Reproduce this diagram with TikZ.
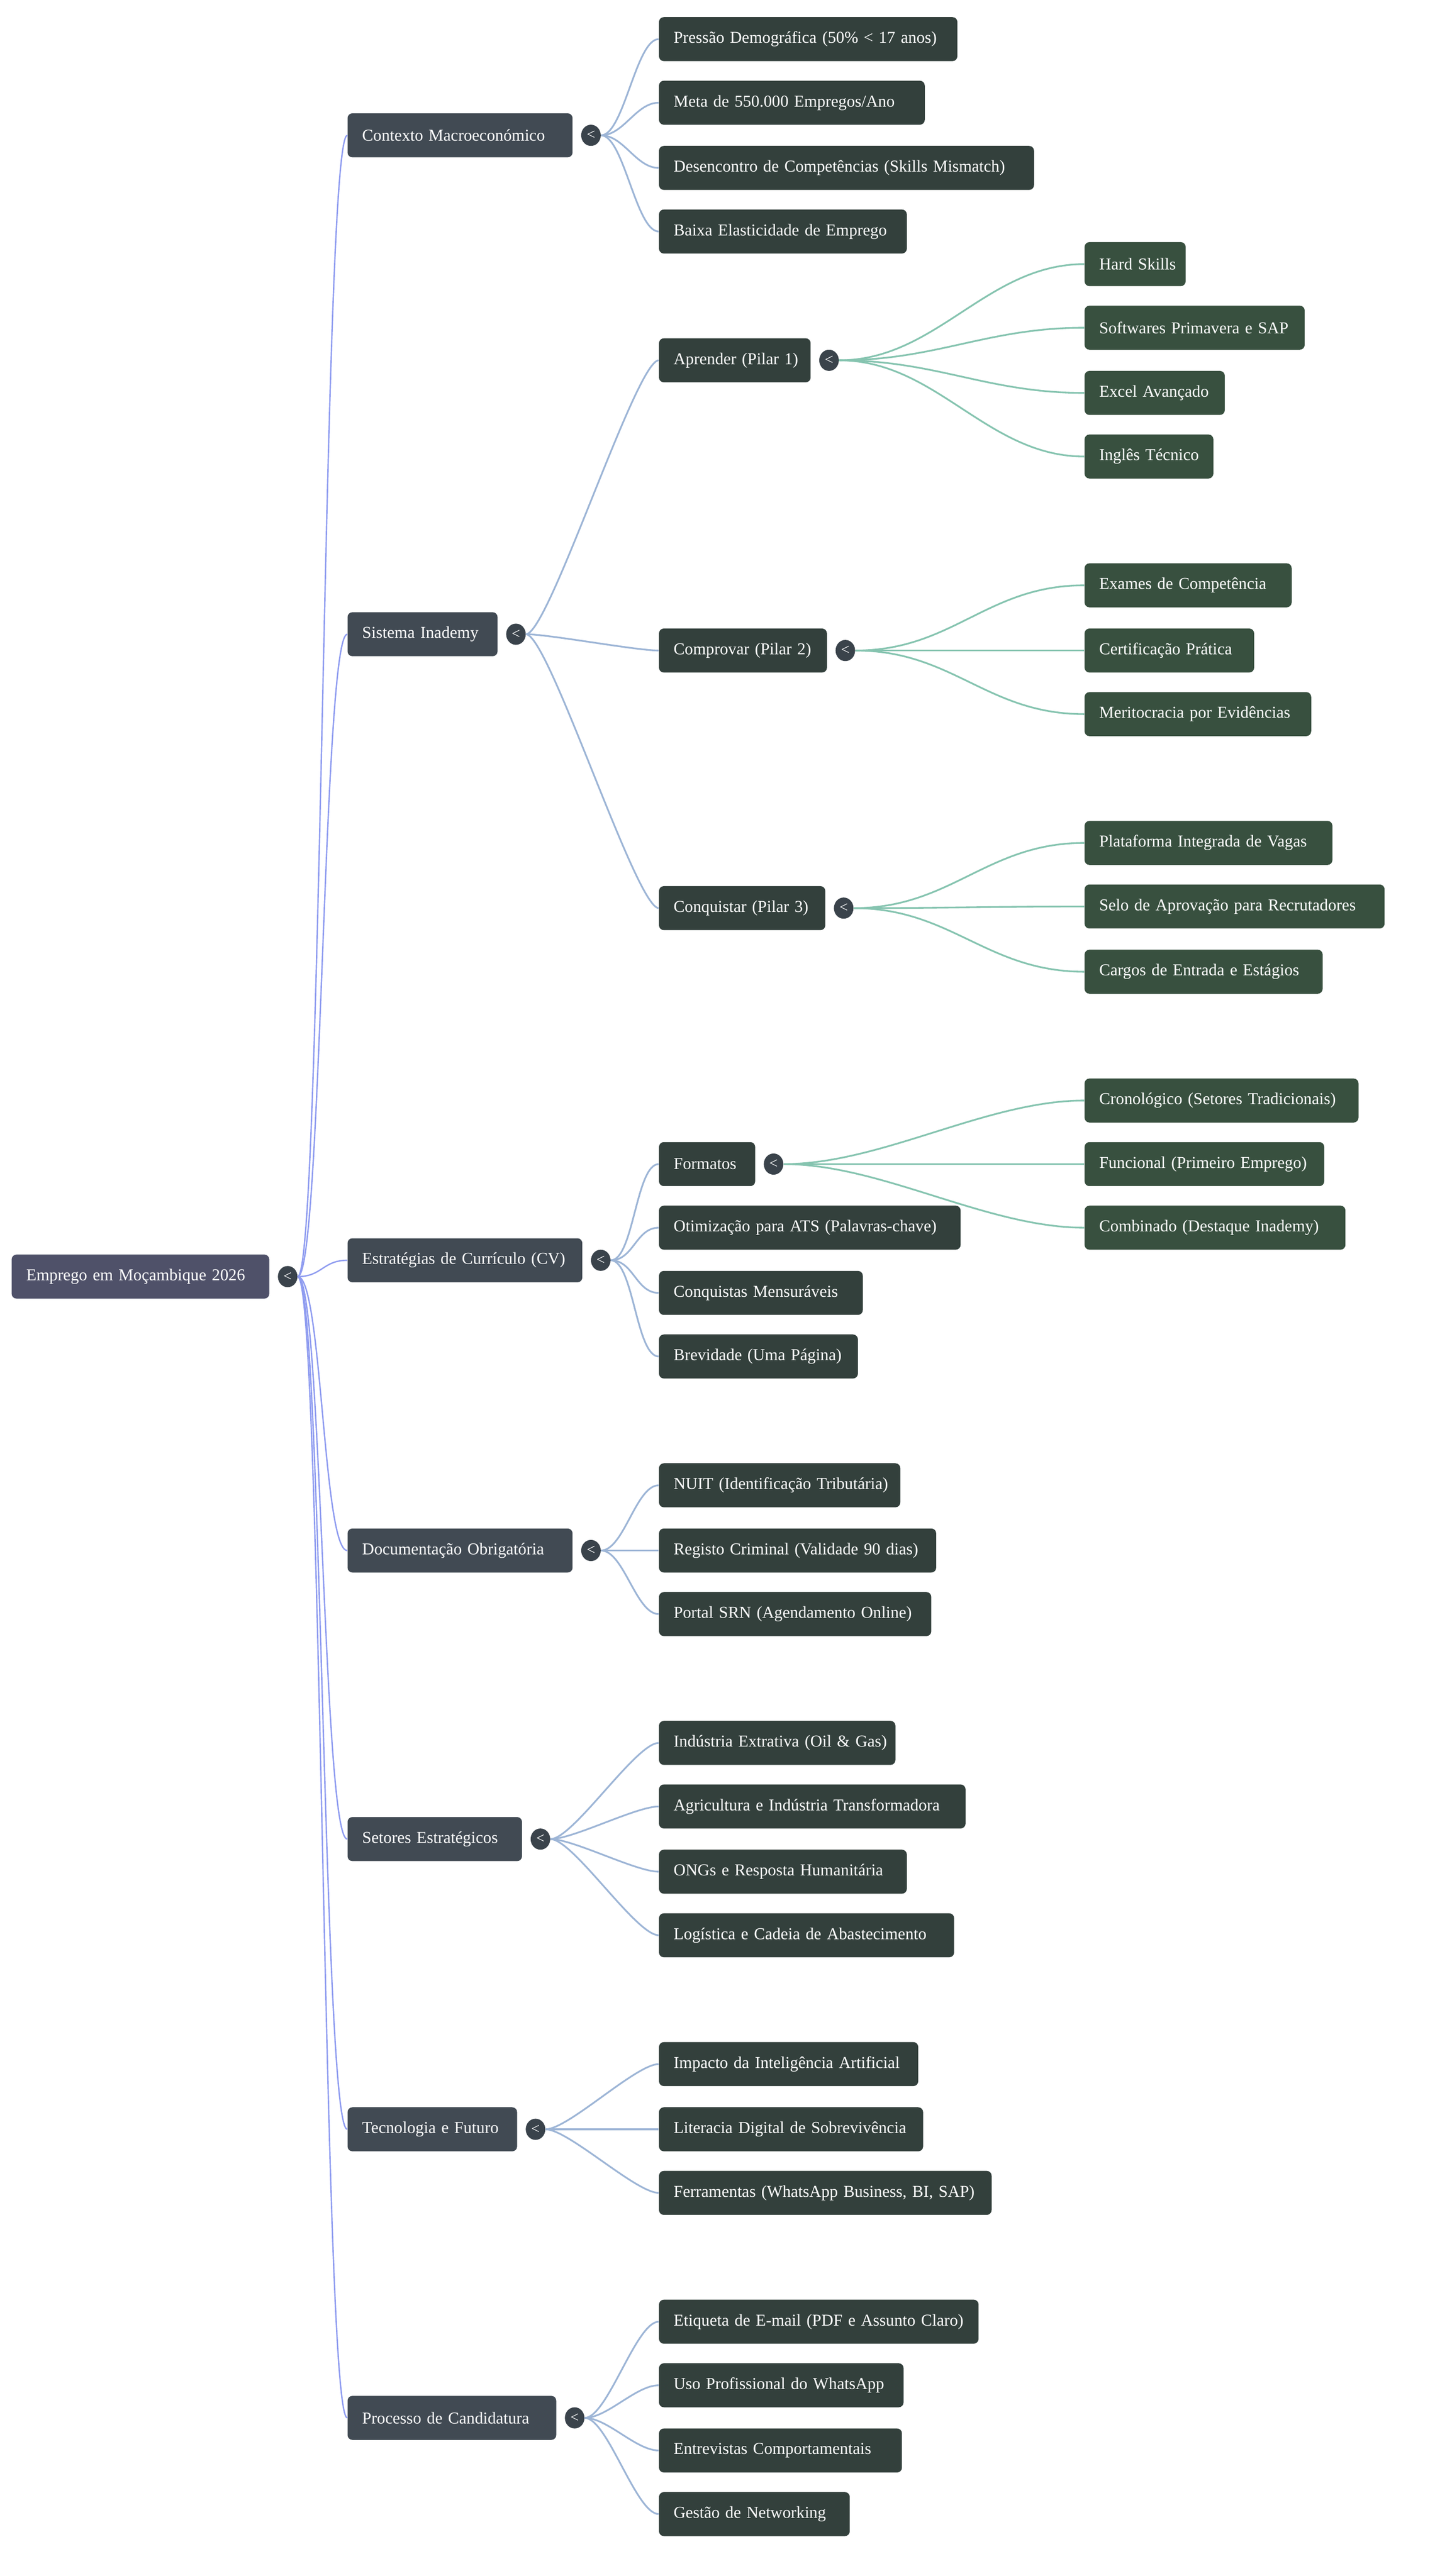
\documentclass[tikz,border=0pt]{standalone}
\usepackage{fontspec}
\setmainfont{Liberation Serif}
\usetikzlibrary{positioning}
\definecolor{rootc}{HTML}{4F5169}
\definecolor{onec}{HTML}{414A53}
\definecolor{twoc}{HTML}{33403C}
\definecolor{threec}{HTML}{38503F}
\definecolor{edgea}{HTML}{8F9CF0}
\definecolor{edgeb}{HTML}{9DB5D6}
\definecolor{edgec}{HTML}{86C4B0}
\tikzset{
  box/.style={rounded corners=0.15cm, text=white, minimum height=1.35cm, inner xsep=0.45cm,
    anchor=west, align=left, font=\fontsize{14.5}{16}\selectfont},
  root/.style={box, fill=rootc},
  lone/.style={box, fill=onec},
  ltwo/.style={box, fill=twoc},
  lthree/.style={box, fill=threec},
  tog/.style={ellipse, fill=onec!90!black, minimum width=0.6cm, minimum height=0.65cm, inner sep=0pt,
    text=white, font=\fontsize{13}{13}\selectfont, right=0.25cm of #1},
  ea/.style={draw=edgea, line width=1.2pt},
  eb/.style={draw=edgeb, line width=1.5pt},
  ec/.style={draw=edgec, line width=1.5pt}
}
\usetikzlibrary{shapes.geometric}
% node: style, name, left x, width, y, text
\newcommand{\mn}[6]{\node[#1, text width={(#4-18)*0.05cm}] (#2) at (#3,#5) {\mbox{#6}};}
% curved link from toggle to child
\newcommand{\lk}[4]{\draw[#1] (#2.east) .. controls +(#4,0) and +(-#4,0) .. (#3.west);}
\begin{document}
\begin{tikzpicture}[x=0.05cm, y=-0.05cm]
  \useasboundingbox (0,0) rectangle (880,1580);

  % root
  \mn{root}{root}{7}{158}{783}{Emprego em Moçambique 2026}
  \node[tog=root] (troot) {<};

  % first level
  \mn{lone}{ctx}{213}{138}{83}{Contexto Macroeconómico}
  \mn{lone}{sys}{213}{92}{389}{Sistema Inademy}
  \mn{lone}{cv}{213}{144}{773}{Estratégias de Currículo (CV)}
  \mn{lone}{doc}{213}{138}{951}{Documentação Obrigatória}
  \mn{lone}{set}{213}{107}{1128}{Setores Estratégicos}
  \mn{lone}{tec}{213}{104}{1306}{Tecnologia e Futuro}
  \mn{lone}{proc}{213}{128}{1483}{Processo de Candidatura}
  \foreach \n in {ctx,sys,cv,doc,set,tec,proc} {
    \node[tog=\n] (t\n) {<};
    \lk{ea}{troot}{\n}{15}
  }

  % Contexto
  \mn{ltwo}{ctxa}{404}{183}{24}{Pressão Demográfica (50\% < 17 anos)}
  \mn{ltwo}{ctxb}{404}{163}{63}{Meta de 550.000 Empregos/Ano}
  \mn{ltwo}{ctxc}{404}{230}{103}{Desencontro de Competências (Skills Mismatch)}
  \mn{ltwo}{ctxd}{404}{152}{142}{Baixa Elasticidade de Emprego}

  % Sistema
  \mn{ltwo}{apr}{404}{93}{221}{Aprender (Pilar 1)}
  \mn{ltwo}{com}{404}{103}{399}{Comprovar (Pilar 2)}
  \mn{ltwo}{conq}{404}{102}{557}{Conquistar (Pilar 3)}

  % CV
  \mn{ltwo}{form}{404}{59}{714}{Formatos}
  \mn{ltwo}{cvb}{404}{185}{753}{Otimização para ATS (Palavras-chave)}
  \mn{ltwo}{cvc}{404}{125}{793}{Conquistas Mensuráveis}
  \mn{ltwo}{cvd}{404}{122}{832}{Brevidade (Uma Página)}

  % Documentacao
  \mn{ltwo}{doca}{404}{148}{911}{NUIT (Identificação Tributária)}
  \mn{ltwo}{docb}{404}{170}{951}{Registo Criminal (Validade 90 dias)}
  \mn{ltwo}{docc}{404}{167}{990}{Portal SRN (Agendamento Online)}

  % Setores
  \mn{ltwo}{seta}{404}{145}{1069}{Indústria Extrativa (Oil \& Gas)}
  \mn{ltwo}{setb}{404}{188}{1108}{Agricultura e Indústria Transformadora}
  \mn{ltwo}{setc}{404}{152}{1148}{ONGs e Resposta Humanitária}
  \mn{ltwo}{setd}{404}{181}{1187}{Logística e Cadeia de Abastecimento}

  % Tecnologia
  \mn{ltwo}{teca}{404}{159}{1266}{Impacto da Inteligência Artificial}
  \mn{ltwo}{tecb}{404}{162}{1306}{Literacia Digital de Sobrevivência}
  \mn{ltwo}{tecc}{404}{204}{1345}{Ferramentas (WhatsApp Business, BI, SAP)}

  % Processo
  \mn{ltwo}{proca}{404}{196}{1424}{Etiqueta de E-mail (PDF e Assunto Claro)}
  \mn{ltwo}{procb}{404}{150}{1463}{Uso Profissional do WhatsApp}
  \mn{ltwo}{procc}{404}{149}{1503}{Entrevistas Comportamentais}
  \mn{ltwo}{procd}{404}{117}{1542}{Gestão de Networking}

  \foreach \p/\kids in {ctx/{ctxa,ctxb,ctxc,ctxd}, sys/{apr,com,conq}, cv/{form,cvb,cvc,cvd},
      doc/{doca,docb,docc}, set/{seta,setb,setc,setd}, tec/{teca,tecb,tecc},
      proc/{proca,procb,procc,procd}} {
    \foreach \k in \kids { \lk{eb}{t\p}{\k}{14} }
  }

  % third level
  \mn{lthree}{hard}{665}{62}{162}{Hard Skills}
  \mn{lthree}{soft}{665}{135}{201}{Softwares Primavera e SAP}
  \mn{lthree}{excel}{665}{86}{241}{Excel Avançado}
  \mn{lthree}{ingl}{665}{79}{280}{Inglês Técnico}
  \mn{lthree}{exam}{665}{127}{359}{Exames de Competência}
  \mn{lthree}{cert}{665}{104}{399}{Certificação Prática}
  \mn{lthree}{merit}{665}{139}{438}{Meritocracia por Evidências}
  \mn{lthree}{plat}{665}{152}{517}{Plataforma Integrada de Vagas}
  \mn{lthree}{selo}{665}{184}{556}{Selo de Aprovação para Recrutadores}
  \mn{lthree}{carg}{665}{146}{596}{Cargos de Entrada e Estágios}
  \mn{lthree}{cron}{665}{168}{675}{Cronológico (Setores Tradicionais)}
  \mn{lthree}{func}{665}{147}{714}{Funcional (Primeiro Emprego)}
  \mn{lthree}{comb}{665}{160}{753}{Combinado (Destaque Inademy)}

  \foreach \p/\kids in {apr/{hard,soft,excel,ingl}, com/{exam,cert,merit},
      conq/{plat,selo,carg}, form/{cron,func,comb}} {
    \node[tog=\p] (t\p) {<};
    \foreach \k in \kids { \lk{ec}{t\p}{\k}{60} }
  }
\end{tikzpicture}
\end{document}
